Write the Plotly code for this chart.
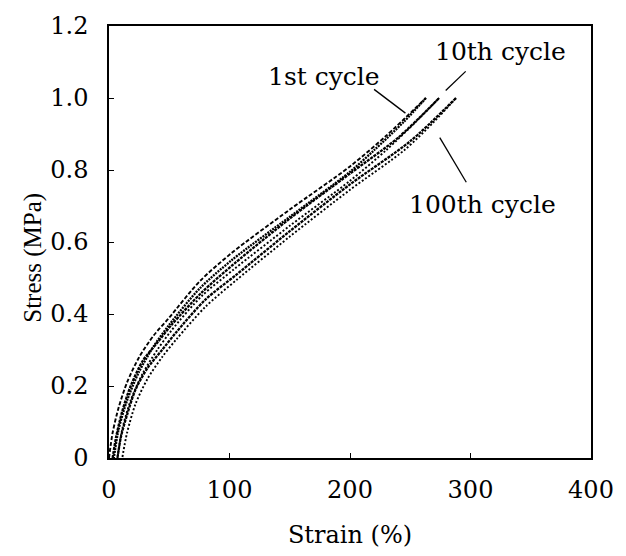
import plotly.graph_objects as go

# ---- data ----
strain_1st_load = [0, 3, 8, 15, 25, 37, 50, 75, 102, 150, 200, 230, 263]
stress_1st_load = [0, 0.07, 0.14, 0.21, 0.28, 0.34, 0.39, 0.49, 0.57, 0.69, 0.81, 0.895, 1.0]
strain_1st_unload = [263, 245, 220, 200, 150, 102, 75, 50, 37, 25, 15, 8, 4]
stress_1st_unload = [1.0, 0.935, 0.855, 0.795, 0.67, 0.55, 0.47, 0.37, 0.31, 0.24, 0.16, 0.08, 0]

strain_10th_load = [3, 6, 11, 18, 28, 40, 52, 77, 104, 150, 200, 240, 274]
stress_10th_load = [0, 0.06, 0.13, 0.20, 0.27, 0.32, 0.37, 0.46, 0.54, 0.665, 0.79, 0.89, 1.0]
strain_10th_unload = [274, 255, 230, 200, 150, 104, 77, 52, 40, 28, 18, 11, 7]
stress_10th_unload = [1.0, 0.935, 0.855, 0.77, 0.645, 0.525, 0.45, 0.355, 0.30, 0.235, 0.16, 0.08, 0]

strain_100th_load = [7, 10, 15, 22, 32, 44, 56, 80, 106, 150, 200, 250, 288]
stress_100th_load = [0, 0.06, 0.12, 0.19, 0.25, 0.30, 0.35, 0.44, 0.51, 0.63, 0.76, 0.88, 1.0]
strain_100th_unload = [288, 270, 245, 200, 150, 106, 80, 56, 44, 32, 22, 15, 11]
stress_100th_unload = [1.0, 0.935, 0.855, 0.745, 0.615, 0.495, 0.42, 0.33, 0.28, 0.22, 0.15, 0.07, 0]

x_tickvals = [0, 100, 200, 300, 400]
x_ticktext = ["0", "100", "200", "300", "400"]
y_tickvals = [0, 0.2, 0.4, 0.6, 0.8, 1.0, 1.2]
y_ticktext = ["0", "0.2", "0.4", "0.6", "0.8", "1.0", "1.2"]

cycle_labels = ["1st cycle", "10th cycle", "100th cycle"]

FONT = "DejaVu Serif"
TIMES = "Times New Roman, serif"

fig = go.Figure()

series = [
    (strain_1st_load, stress_1st_load, "4px,2px", 1.9),
    (strain_1st_unload, stress_1st_unload, "2px,1px", 2.3),
    (strain_10th_load, stress_10th_load, "3px,1px", 2.3),
    (strain_10th_unload, stress_10th_unload, "2px,2px", 1.9),
    (strain_100th_load, stress_100th_load, "3px,1px", 2.3),
    (strain_100th_unload, stress_100th_unload, "2px,2px", 1.9),
]
for xs, ys, dash, w in series:
    fig.add_trace(go.Scatter(
        x=xs, y=ys, mode="lines",
        line=dict(color="black", width=w, dash=dash, shape="spline", smoothing=0.8),
        showlegend=False, hoverinfo="skip",
    ))

leaders = [
    ((220, 1.024), (246, 0.958)),
    ((296, 1.074), (279.4, 1.021)),
    ((274.5, 0.89), (296.5, 0.766)),
]
for (x0, y0), (x1, y1) in leaders:
    fig.add_shape(type="line", x0=x0, y0=y0, x1=x1, y1=y1,
                  xref="x", yref="y", line=dict(color="black", width=1.3))

label_pos = [(178.4, 1.06), (325, 1.128), (310, 0.703)]
for txt, (lx, ly) in zip(cycle_labels, label_pos):
    fig.add_annotation(x=lx, y=ly, xref="x", yref="y", text=txt, showarrow=False,
                       font=dict(family=FONT, size=25, color="black"))

plot_w = 626 - 109 - 26
plot_h = 556 - 21 - 98
fig.add_annotation(x=(32 - 109) / plot_w, y=(458 - 255) / plot_h,
                   xref="paper", yref="paper", text="Stress (MPa)",
                   xanchor="center", yanchor="middle",
                   showarrow=False, textangle=-90,
                   font=dict(family=TIMES, size=25, color="black"))

fig.update_layout(
    width=626, height=556,
    margin=dict(l=109, r=26, t=21, b=98),
    paper_bgcolor="white", plot_bgcolor="white",
    font=dict(family=FONT, size=24, color="black"),
)

fig.update_xaxes(
    range=[0, 400], tickvals=x_tickvals, ticktext=x_ticktext,
    showgrid=False, zeroline=False, showline=True, linecolor="black", linewidth=1.5,
    mirror=True, ticks="inside", ticklen=5, tickwidth=1.3, tickcolor="black",
    ticklabelstandoff=9,
    tickfont=dict(family=FONT, size=24, color="black"),
    title=dict(text="Strain (%)", font=dict(family=FONT, size=24, color="black"), standoff=24),
)
fig.update_yaxes(
    range=[0, 1.2], tickvals=y_tickvals, ticktext=y_ticktext,
    showgrid=False, zeroline=False, showline=True, linecolor="black", linewidth=1.5,
    mirror=True, ticks="inside", ticklen=5, tickwidth=1.3, tickcolor="black",
    ticklabelstandoff=14,
    tickfont=dict(family=FONT, size=24, color="black"),
)

fig.write_html("out.html")
